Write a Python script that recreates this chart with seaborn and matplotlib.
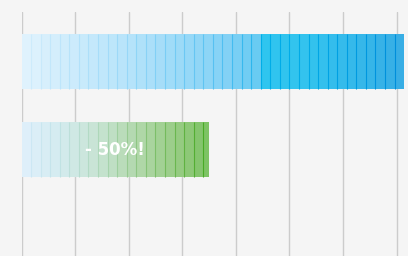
import numpy as np
import matplotlib
matplotlib.use("Agg")
import matplotlib.pyplot as plt
from matplotlib.colors import LinearSegmentedColormap, to_rgb
import seaborn as sns

# DATA
categories = ["before", "after"]
values = [100, 49]
label = "- 50%!"
tick_step = 14
seg = 2.5

# gradient stops for each bar (fraction, colour)
stops = [
    [(0.0, "#e1f3fd"), (0.28, "#b6e3fa"), (0.54, "#82d1f5"), (0.62, "#66caf2"),
     (0.63, "#2fc5ef"), (0.75, "#33c3ee"), (1.0, "#38ade5")],
    [(0.0, "#dff0fc"), (0.2, "#d4ebef"), (0.42, "#c6e3d0"), (0.65, "#aed6a5"),
     (0.85, "#94cb80"), (1.0, "#7bc262")],
]

sns.set_theme(style="whitegrid", rc={
    "axes.facecolor": "#f5f5f5",
    "figure.facecolor": "#f5f5f5",
    "grid.color": "#cccccc",
    "grid.linewidth": 1.0,
})

fig = plt.figure(figsize=(4.08, 2.56), dpi=100)
ax = fig.add_axes([21.5 / 408, 0, 1 - 21.5 / 408, 244 / 256])

bar_h = 0.625
sns.barplot(x=values, y=categories, orient="h", width=bar_h,
            palette=[s[-1][1] for s in stops], hue=categories,
            legend=False, ax=ax, linewidth=0, zorder=2)

# gradient made of narrow bands, each with a slightly darker seam
for i, v in enumerate(values):
    cmap = LinearSegmentedColormap.from_list(f"g{i}", stops[i])
    edges = np.append(np.arange(0, v, seg), v)
    for l, r in zip(edges[:-1], edges[1:]):
        c = np.array(to_rgb(cmap((l + (r - l) / 2) / v)))
        ax.barh(i, r - l, left=l, height=bar_h, color=c, lw=0, zorder=3)
        if l > 0:
            dark = np.clip(1 - (1 - c) * 1.4, 0, 1)
            ax.plot([l, l], [i - bar_h / 2, i + bar_h / 2], color=dark,
                    lw=0.8, zorder=4, solid_capstyle="butt")

ax.text(values[1] / 2, 1, label, ha="center", va="center", color="white",
        fontsize=12, fontweight="bold", family="DejaVu Sans", zorder=5)

ax.set_xlim(0, 101)
ax.set_ylim(2.21, -0.5625)
ax.set_xticks(np.arange(0, 101, tick_step))
ax.xaxis.grid(True)
ax.yaxis.grid(False)
ax.set_axisbelow(True)
ax.set_xticklabels([])
ax.set_yticks([])
ax.tick_params(length=0)
ax.set_xlabel("")
ax.set_ylabel("")
for s in ax.spines.values():
    s.set_visible(False)

fig.savefig("out.png", dpi=100, facecolor=fig.get_facecolor())
